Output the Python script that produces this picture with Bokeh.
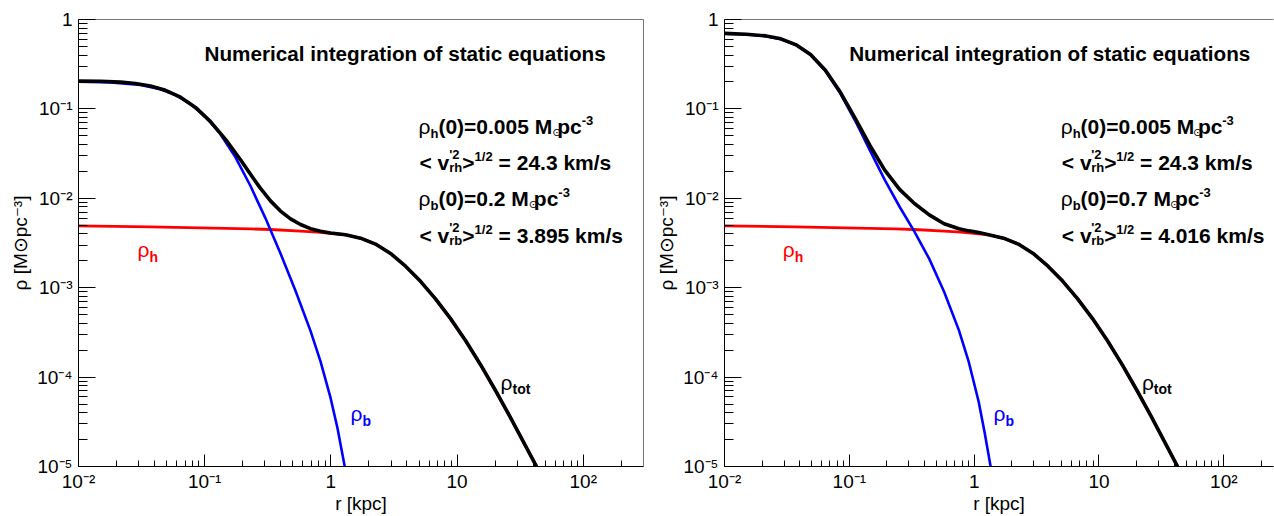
import math
from bokeh.plotting import figure
from bokeh.models import Range1d, FixedTicker, LogAxis, Label, CustomJSTickFormatter
from bokeh.layouts import row
from bokeh.embed import file_html
from bokeh.resources import INLINE

# ---------------- data ----------------
# outer part, where rho_tot and rho_h coincide (same in both panels)
r_tail = [1.3057, 1.717, 2.258, 2.968, 3.902, 5.131, 6.747, 8.872, 11.66, 15.34, 20.16,
          26.51, 34.86, 42.61]
rho_tail = [3.911e-3, 3.584e-3, 3.075e-3, 2.417e-3, 1.742e-3, 1.178e-3, 7.51e-4, 4.51e-4,
            2.563e-4, 1.377e-4, 7.08e-5, 3.52e-5, 1.70e-5, 1.0e-5]

# halo density, inner part (same in both panels)
r_halo_in = [0.01, 0.037198, 0.09264, 0.23065, 0.33223, 0.57437, 0.7790, 0.99309]
rho_halo_in = [0.004923, 0.004786, 0.004666, 0.004548, 0.004479, 0.004299, 0.004180, 0.004043]

# left panel: bulge and total (inner part)
r_bulge_a = [0.01, 0.017934, 0.03099, 0.044648, 0.058707, 0.07719, 0.10149, 0.13344, 0.17543,
             0.23065, 0.3033, 0.3988, 0.52426, 0.68943, 0.8273, 0.99309, 1.1283, 1.2868]
rho_bulge_a = [0.20108, 0.19802, 0.18521, 0.16596, 0.14301, 0.1136, 0.0817, 0.05207, 0.02873,
               0.01373, 0.005965, 0.002416, 9.26e-4, 3.29e-4, 1.496e-4, 5.88e-5, 2.675e-5,
               1.0e-5]
r_tot_a_in = [0.01, 0.014937, 0.021523, 0.028293, 0.037198, 0.048913, 0.064313, 0.084559,
              0.11118, 0.14619, 0.1922, 0.23065, 0.27682, 0.33223, 0.3988, 0.47864, 0.57437,
              0.68943, 0.8273, 0.99309]
rho_tot_a_in = [0.20472, 0.20368, 0.19953, 0.1925, 0.18053, 0.16132, 0.13523, 0.10391, 0.07208,
                0.04571, 0.02699, 0.01853, 0.0129, 0.009356, 0.007201, 0.005896, 0.005096,
                0.004576, 0.00428, 0.0041]

# right panel: bulge and total (inner part)
r_bulge_b = [0.01, 0.014937, 0.021523, 0.028293, 0.037198, 0.048913, 0.064313, 0.084559,
             0.11118, 0.14619, 0.1922, 0.2527, 0.33223, 0.43685, 0.57437, 0.75534, 0.9064,
             1.0879, 1.2139, 1.3542]
rho_bulge_b = [0.6938, 0.6796, 0.6506, 0.6026, 0.5194, 0.4013, 0.2657, 0.1494, 0.07413, 0.03441,
               0.01605, 0.008044, 0.004245, 0.0021, 9.03e-4, 3.33e-4, 1.468e-4, 5.27e-5,
               2.386e-5, 1.0e-5]
r_tot_b_in = [0.01, 0.014937, 0.021523, 0.028293, 0.037198, 0.048913, 0.064313, 0.084559,
              0.11118, 0.14619, 0.1922, 0.2527, 0.33223, 0.43685, 0.57437, 0.75534, 0.9064,
              1.0879]
rho_tot_b_in = [0.6987, 0.6845, 0.6555, 0.6074, 0.5242, 0.4061, 0.2705, 0.1541, 0.0788, 0.039,
                0.02065, 0.01259, 0.008745, 0.00653, 0.0052, 0.00456, 0.00432, 0.00415]

x_major = [0.01, 0.1, 1, 10, 100]
x_major_labels = ["10⁻²", "10⁻¹", "1", "10", "10²"]
y_major = [1e-5, 1e-4, 1e-3, 1e-2, 1e-1, 1]
y_major_labels = ["10⁻⁵", "10⁻⁴", "10⁻³", "10⁻²", "10⁻¹", "1"]

x_title = "r [kpc]"
y_title = "ρ [M⊙pc⁻³]"
title_text = "Numerical integration of static equations"
rho_h0 = "0.005"
v_rh = "24.3"
rho_b0 = ["0.2", "0.7"]
v_rb = ["3.895", "4.016"]

FONT = "Liberation Sans"

# ---------------- text metrics (Arial-compatible, per 1000 em) ----------------
REG = {' ': 278, '(': 333, ')': 333, '-': 333, '.': 278, '/': 278, '<': 584, '=': 584,
       '>': 584, '[': 278, ']': 278, 'M': 833, "'": 191, 'k': 500, 'm': 833, 's': 500,
       'p': 556, 'c': 500, 'r': 333, 'h': 556, 'b': 556, 't': 278, 'o': 556, 'v': 500,
       'ρ': 570}
BOLD = {' ': 278, '(': 333, ')': 333, '-': 333, '.': 278, '/': 278, '<': 584, '=': 584,
        '>': 584, 'M': 833, "'": 238, 'k': 556, 'm': 889, 's': 556, 'p': 611, 'c': 556,
        'r': 389, 'h': 611, 'b': 611, 't': 333, 'o': 611, 'v': 556, 'ρ': 570}


def tw(s, size, bold):
    tab = BOLD if bold else REG
    return sum(tab.get(c, 556) for c in s) * size / 1000.0


class Panel:
    def __init__(self, fig, frame_left, x_lo, xpd):
        self.fig = fig
        self.fl = frame_left
        self.x_lo = x_lo
        self.xpd = xpd

    def data(self, px, py):
        x = 10 ** (math.log10(self.x_lo) + (px - self.fl) / self.xpd)
        y = 10 ** (-(py - 19) / 90.0)
        return x, y

    def put(self, px, py, text, size, bold=False, color="black", align="left", font=FONT):
        x, y = self.data(px, py)
        self.fig.add_layout(Label(x=x, y=y, text=text, text_font=font,
                                  text_font_size=f"{size}px",
                                  text_font_style="bold" if bold else "normal",
                                  text_color=color, text_align=align,
                                  text_baseline="alphabetic"))


def rich(panel, px, py, segs, size, sub_size, bold=True, color="black"):
    x = px
    for kind, txt in segs:
        if kind == "m":
            panel.put(x, py, txt, size, bold, color)
            x += tw(txt, size, bold)
        elif kind == "g":  # greek, regular weight
            panel.put(x, py, txt, size, False, color)
            x += tw(txt, size, False)
        elif kind == "sub":
            panel.put(x, py + 7, txt, sub_size, bold, color)
            x += tw(txt, sub_size, bold)
        elif kind == "sup":
            panel.put(x, py - 6, txt, sub_size, bold, color)
            x += tw(txt, sub_size, bold)
        elif kind == "odot":
            panel.put(x, py + 6, "⊙", sub_size - 2, False, color, font="DejaVu Sans")
            x += txt
        elif kind == "stack":
            sup, sub = txt
            panel.put(x, py - 8, sup, sub_size, bold, color)
            panel.put(x, py + 5, sub, sub_size, bold, color)
            x += max(tw(sup, sub_size, bold), tw(sub, sub_size, bold))
        elif kind == "gap":
            x += txt


def make_fig(width, x_hi, mb_left, mb_right, right_frame):
    p = figure(width=width, height=516, x_axis_type="log", y_axis_type="log",
               x_range=Range1d(0.01, x_hi), y_range=Range1d(1e-5, 1),
               output_backend="svg", toolbar_location=None,
               min_border_left=mb_left, min_border_right=mb_right,
               min_border_top=19, min_border_bottom=47)
    p.outline_line_color = None
    p.background_fill_color = "white"
    p.border_fill_color = "white"
    p.xgrid.visible = False
    p.ygrid.visible = False

    x_minor = [m * 10 ** k for k in range(-2, 3) for m in range(2, 10)]
    y_minor = [m * 10 ** k for k in range(-5, 0) for m in range(2, 10)]

    js = """
        for (let i = 0; i < vals.length; i++) {
            if (Math.abs(Math.log10(vals[i]) - Math.log10(tick)) < 1e-6) return labs[i];
        }
        return '';"""
    xa = p.xaxis[0]
    xa.ticker = FixedTicker(ticks=x_major, minor_ticks=x_minor)
    xa.formatter = CustomJSTickFormatter(args=dict(vals=x_major, labs=x_major_labels), code=js)
    ya = p.yaxis[0]
    ya.ticker = FixedTicker(ticks=y_major, minor_ticks=y_minor)
    ya.formatter = CustomJSTickFormatter(args=dict(vals=y_major, labs=y_major_labels), code=js)
    for ax, maj, mnr in ((xa, 12, 6), (ya, 17, 9)):
        ax.major_tick_in = maj
        ax.major_tick_out = 0
        ax.minor_tick_in = mnr
        ax.minor_tick_out = 0
        ax.axis_line_color = "black"
        ax.axis_line_width = 1
        ax.major_tick_line_color = "black"
        ax.minor_tick_line_color = "black"
        ax.major_label_text_font = FONT
        ax.major_label_text_font_size = "19px"
        ax.major_label_text_color = "black"
        ax.axis_label_text_font = FONT
        ax.axis_label_text_font_size = "19px"
        ax.axis_label_text_font_style = "normal"
        ax.axis_label_text_color = "black"
    xa.axis_label = x_title
    xa.major_label_standoff = 4
    xa.axis_label_standoff = -2
    ya.axis_label = y_title
    ya.major_label_standoff = 6
    ya.axis_label_standoff = 3

    top = LogAxis(ticker=FixedTicker(ticks=[]), major_label_text_font_size="0px",
                  axis_line_color="#777777", major_tick_line_color=None,
                  minor_tick_line_color=None, major_label_standoff=0)
    p.add_layout(top, "above")
    if right_frame:
        rgt = LogAxis(ticker=FixedTicker(ticks=[]), major_label_text_font_size="0px",
                      axis_line_color="#777777", major_tick_line_color=None,
                      minor_tick_line_color=None, major_label_standoff=0)
        p.add_layout(rgt, "right")
    return p


XPD = 565 / math.log10(300 / 0.01)
x_hi_b = 10 ** (-2 + 555 / XPD)

p1 = make_fig(653, 300, 78, 10, True)
p2 = make_fig(621, x_hi_b, 65, 1, False)

panels = [Panel(p1, 78, 0.01, XPD), Panel(p2, 718, 0.01, XPD)]
bulges = [(r_bulge_a, rho_bulge_a), (r_bulge_b, rho_bulge_b)]
totals = [(r_tot_a_in + r_tail, rho_tot_a_in + rho_tail),
          (r_tot_b_in + r_tail, rho_tot_b_in + rho_tail)]
halo = (r_halo_in + r_tail, rho_halo_in + rho_tail)

for i, pan in enumerate(panels):
    p = pan.fig
    p.line(halo[0], halo[1], line_color="#ff0000", line_width=2.8, line_join="round")
    p.line(bulges[i][0], bulges[i][1], line_color="#0000ff", line_width=2.6, line_join="round")
    p.line(totals[i][0], totals[i][1], line_color="black", line_width=3.6, line_join="round")

    dx = pan.fl - 78
    pan.put(204 + dx, 53, title_text, 20.7, bold=True)
    S, s = 21, 13
    rich(pan, 418 + dx, 127, [("g", "ρ"), ("sub", "h"), ("m", "(0)=" + rho_h0 + " M"),
                               ("odot", 5), ("m", "pc"), ("sup", "-3")], S, s)
    rich(pan, 419 + dx, 163, [("m", "< v"), ("stack", ("'2", "rh")), ("m", ">"), ("sup", "1/2"),
                               ("gap", 6), ("m", "= " + v_rh + " km/s")], S, s)
    rich(pan, 418 + dx, 199, [("g", "ρ"), ("sub", "b"), ("m", "(0)=" + rho_b0[i] + " M"),
                               ("odot", 5), ("m", "pc"), ("sup", "-3")], S, s)
    rich(pan, 419 + dx, 236, [("m", "< v"), ("stack", ("'2", "rb")), ("m", ">"), ("sup", "1/2"),
                               ("gap", 6), ("m", "= " + v_rb[i] + " km/s")], S, s)
    rich(pan, 137 + dx, 251, [("g", "ρ"), ("sub", "h")], 21, 14, color="#ff0000")
    rich(pan, 350 + dx, 416, [("g", "ρ"), ("sub", "b")], 21, 14, color="#0000ff")
    rich(pan, 500 + dx, 384, [("g", "ρ"), ("sub", "tot")], 21, 14, color="black")

layout = row(p1, p2)
open("out.html", "w").write(file_html(layout, INLINE))
